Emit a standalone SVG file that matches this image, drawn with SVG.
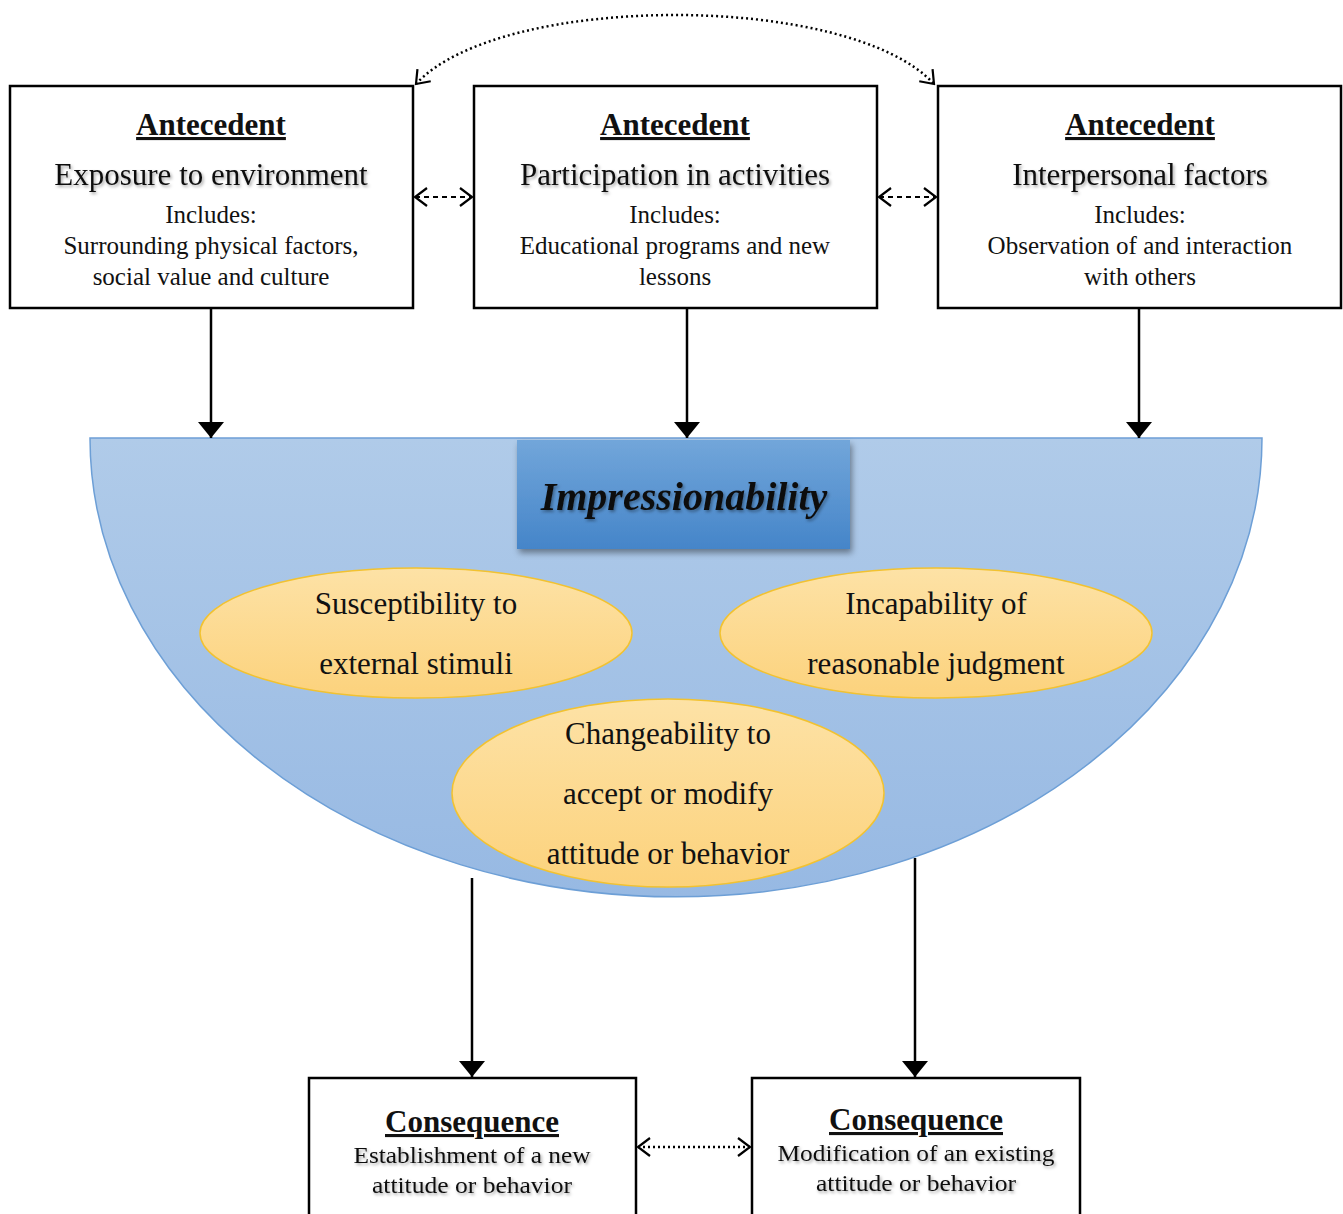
<svg xmlns="http://www.w3.org/2000/svg" width="1343" height="1214" viewBox="0 0 1343 1214">
<defs>
<style>
.box{fill:#fff;stroke:#000;stroke-width:2.5}
.t{font-family:"Liberation Serif","Times New Roman",serif;fill:#111;text-anchor:middle}
.h{font-size:31px;font-weight:bold;text-decoration:underline}
.m{font-size:31px}
.s{font-size:25px}
.e{font-size:31px}
.c{font-size:24px}
.ell{stroke:#f2c230;stroke-width:1.5}
.ln{stroke:#000;stroke-width:2.5;fill:none}
.dash{stroke:#000;stroke-width:2;stroke-dasharray:5 4;fill:none}
.dot{stroke:#000;stroke-width:2.5;stroke-dasharray:2 3;fill:none}
</style>
<linearGradient id="bowl" x1="0" y1="0" x2="0" y2="1">
<stop offset="0" stop-color="#b0cbe9"/>
<stop offset="1" stop-color="#97b9e3"/>
</linearGradient>
<linearGradient id="imp" x1="0" y1="0" x2="0" y2="1">
<stop offset="0" stop-color="#72a6da"/>
<stop offset="1" stop-color="#4585c9"/>
</linearGradient>
<linearGradient id="yel" x1="0" y1="0" x2="0" y2="1">
<stop offset="0" stop-color="#fde2a6"/>
<stop offset="1" stop-color="#fcd27c"/>
</linearGradient>
<filter id="sh" x="-10%" y="-10%" width="130%" height="140%">
<feDropShadow dx="2" dy="4" stdDeviation="3" flood-color="#000" flood-opacity="0.4"/>
</filter>
<filter id="tsh" x="-10%" y="-20%" width="120%" height="150%">
<feDropShadow dx="1.5" dy="2" stdDeviation="1.5" flood-color="#000" flood-opacity="0.35"/>
</filter>
<marker id="tri" markerWidth="16" markerHeight="26" refX="16" refY="13" orient="auto" markerUnits="userSpaceOnUse" viewBox="0 0 16 26">
<path d="M0 0 L16 13 L0 26 Z" fill="#000"/>
</marker>
<marker id="open" markerWidth="16" markerHeight="20" refX="14" refY="10" orient="auto-start-reverse" markerUnits="userSpaceOnUse" viewBox="0 0 16 20">
<path d="M2 1 L14 10 L2 19" fill="none" stroke="#000" stroke-width="2.2"/>
</marker>
</defs>

<g id="impressionability-bowl">
<path d="M90 438 L1262 438 A586 459 0 0 1 90 438 Z" fill="url(#bowl)" stroke="#6d9fd6" stroke-width="1.5"/>
</g>

<g id="impressionability-title">
<rect x="517" y="440" width="333" height="109" fill="url(#imp)" filter="url(#sh)"/>
<text class="t" x="684" y="510" font-size="40" font-weight="bold" font-style="italic" fill="#000" filter="url(#tsh)">Impressionability</text>
</g>

<g id="ellipse-susceptibility">
<ellipse class="ell" cx="416" cy="633" rx="216" ry="65" fill="url(#yel)"/>
<text class="t e" x="416" y="614">Susceptibility to</text>
<text class="t e" x="416" y="674">external stimuli</text>
</g>

<g id="ellipse-incapability">
<ellipse class="ell" cx="936" cy="633" rx="216" ry="65" fill="url(#yel)"/>
<text class="t e" x="936" y="614">Incapability of</text>
<text class="t e" x="936" y="674">reasonable judgment</text>
</g>

<g id="ellipse-changeability">
<ellipse class="ell" cx="668" cy="793" rx="216" ry="94" fill="url(#yel)"/>
<text class="t e" x="668" y="744">Changeability to</text>
<text class="t e" x="668" y="804">accept or modify</text>
<text class="t e" x="668" y="864">attitude or behavior</text>
</g>

<g id="antecedent-exposure">
<rect class="box" x="10" y="86" width="403" height="222"/>
<text class="t h" x="211" y="135">Antecedent</text>
<text class="t m" x="211" y="185" filter="url(#tsh)">Exposure to environment</text>
<text class="t s" x="211" y="223">Includes:</text>
<text class="t s" x="211" y="254">Surrounding physical factors,</text>
<text class="t s" x="211" y="285">social value and culture</text>
</g>

<g id="antecedent-participation">
<rect class="box" x="474" y="86" width="403" height="222"/>
<text class="t h" x="675" y="135">Antecedent</text>
<text class="t m" x="675" y="185" filter="url(#tsh)">Participation in activities</text>
<text class="t s" x="675" y="223">Includes:</text>
<text class="t s" x="675" y="254">Educational programs and new</text>
<text class="t s" x="675" y="285">lessons</text>
</g>

<g id="antecedent-interpersonal">
<rect class="box" x="938" y="86" width="403" height="222"/>
<text class="t h" x="1140" y="135">Antecedent</text>
<text class="t m" x="1140" y="185" filter="url(#tsh)">Interpersonal factors</text>
<text class="t s" x="1140" y="223">Includes:</text>
<text class="t s" x="1140" y="254">Observation of and interaction</text>
<text class="t s" x="1140" y="285">with others</text>
</g>

<g id="consequence-establishment">
<rect class="box" x="309" y="1078" width="327" height="150"/>
<text class="t h" x="472" y="1132" textLength="174" lengthAdjust="spacingAndGlyphs">Consequence</text>
<text class="t c" x="472" y="1163" textLength="237" lengthAdjust="spacingAndGlyphs" filter="url(#tsh)">Establishment of a new</text>
<text class="t c" x="472" y="1193" textLength="200" lengthAdjust="spacingAndGlyphs" filter="url(#tsh)">attitude or behavior</text>
</g>

<g id="consequence-modification">
<rect class="box" x="752" y="1078" width="328" height="150"/>
<text class="t h" x="916" y="1130" textLength="174" lengthAdjust="spacingAndGlyphs">Consequence</text>
<text class="t c" x="916" y="1161" textLength="277" lengthAdjust="spacingAndGlyphs" filter="url(#tsh)">Modification of an existing</text>
<text class="t c" x="916" y="1191" textLength="200" lengthAdjust="spacingAndGlyphs" filter="url(#tsh)">attitude or behavior</text>
</g>

<g id="connectors">
<line class="ln" x1="211" y1="308" x2="211" y2="438" marker-end="url(#tri)"/>
<line class="ln" x1="687" y1="308" x2="687" y2="438" marker-end="url(#tri)"/>
<line class="ln" x1="1139" y1="308" x2="1139" y2="438" marker-end="url(#tri)"/>
<line class="ln" x1="472" y1="878" x2="472" y2="1077" marker-end="url(#tri)"/>
<line class="ln" x1="915" y1="858" x2="915" y2="1077" marker-end="url(#tri)"/>
<line class="dash" x1="415" y1="197" x2="472" y2="197" marker-start="url(#open)" marker-end="url(#open)"/>
<line class="dash" x1="879" y1="197" x2="936" y2="197" marker-start="url(#open)" marker-end="url(#open)"/>
<line class="dot" x1="638" y1="1147" x2="750" y2="1147" marker-start="url(#open)" marker-end="url(#open)"/>
<path class="dot" d="M416 84 C 500 -8, 850 -8, 934 84" marker-start="url(#open)" marker-end="url(#open)"/>
</g>
</svg>
